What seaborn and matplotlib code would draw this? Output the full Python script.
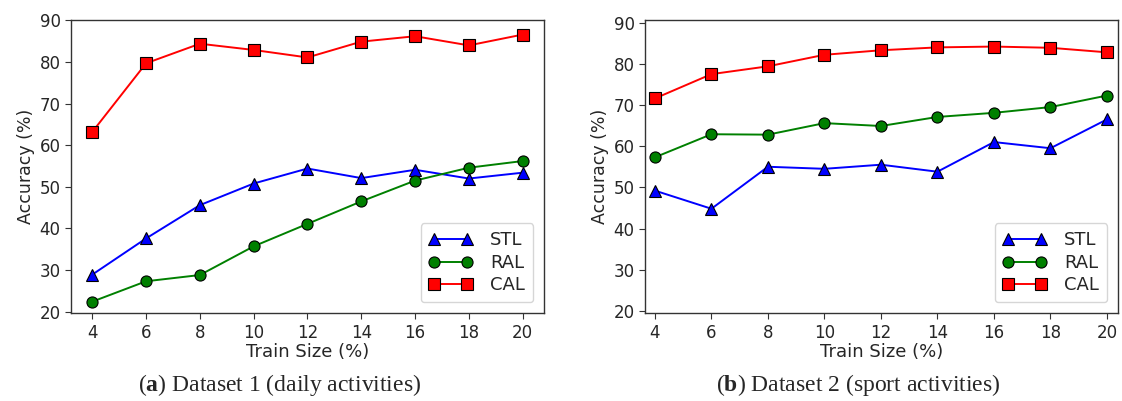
import pandas as pd
import seaborn as sns
import matplotlib.pyplot as plt

train_size = [4, 6, 8, 10, 12, 14, 16, 18, 20]

# dataset 1 (daily activities)
stl_1 = [28.9, 37.6, 45.6, 50.8, 54.4, 52.1, 54.1, 52.0, 53.4]
ral_1 = [22.4, 27.3, 28.8, 35.7, 41.1, 46.5, 51.5, 54.6, 56.2]
cal_1 = [63.2, 79.7, 84.4, 82.9, 81.1, 84.9, 86.2, 84.0, 86.6]

# dataset 2 (sport activities)
stl_2 = [49.2, 44.8, 55.0, 54.5, 55.5, 53.8, 61.0, 59.5, 66.5]
ral_2 = [57.3, 62.9, 62.8, 65.6, 64.9, 67.1, 68.1, 69.5, 72.3]
cal_2 = [71.6, 77.5, 79.4, 82.2, 83.3, 84.0, 84.2, 83.9, 82.8]

methods = ["STL", "RAL", "CAL"]
colors = {"STL": "#0000ff", "RAL": "#008000", "CAL": "#ff0000"}
markers = {"STL": "^", "RAL": "o", "CAL": "s"}
captions = ["Dataset 1 (daily activities)", "Dataset 2 (sport activities)"]
letters = ["a", "b"]


def make_df(stl, ral, cal):
    rows = []
    for name, vals in zip(methods, [stl, ral, cal]):
        for x, v in zip(train_size, vals):
            rows.append({"Train Size (%)": x, "Accuracy (%)": v, "method": name})
    return pd.DataFrame(rows)


sns.set_style("ticks")
plt.rcParams["font.family"] = ["DejaVu Sans"]
plt.rcParams["mathtext.fontset"] = "custom"
plt.rcParams["mathtext.bf"] = "Liberation Serif:bold"
plt.rcParams["mathtext.rm"] = "Liberation Serif"

data = [make_df(stl_1, ral_1, cal_1), make_df(stl_2, ral_2, cal_2)]
xlims = [(3.21, 20.79), (3.65, 20.39)]
ylims = [(19.6, 90.1), (19.4, 90.65)]

fig = plt.figure(figsize=(11.22, 4.01), dpi=100)
axes = [fig.add_axes([0.0633, 0.2187, 0.4215, 0.7314]),
        fig.add_axes([0.5749, 0.2187, 0.4215, 0.7314])]

for i, ax in enumerate(axes):
    df = data[i]
    for m in methods:
        sub = df[df["method"] == m]
        sns.lineplot(data=sub, x="Train Size (%)", y="Accuracy (%)", ax=ax,
                     color=colors[m], marker=markers[m], markersize=8,
                     markeredgecolor="black", markeredgewidth=0.8,
                     linewidth=1.4, label=m)
    ax.set_xlim(*xlims[i])
    ax.set_ylim(*ylims[i])
    ax.set_xticks(train_size)
    ax.set_yticks([20, 30, 40, 50, 60, 70, 80, 90])
    ax.tick_params(labelsize=12, length=4, color="#333333")
    ax.set_xlabel("Train Size (%)", fontsize=13, labelpad=1)
    ax.set_ylabel("Accuracy (%)", fontsize=12.5, labelpad=3)
    for s in ax.spines.values():
        s.set_color("#333333")
        s.set_linewidth(1.0)
    ax.legend(loc="lower right", numpoints=2, fontsize=13, handlelength=2.4,
              borderpad=0.45, labelspacing=0.25, handletextpad=1.0,
              borderaxespad=0.6)

caption_x = [280 / 1122, 858 / 1122]
for i in range(2):
    fig.text(caption_x[i], 0.025,
             "(" + r"$\mathbf{" + letters[i] + "}$" + ") " + captions[i],
             ha="center", va="baseline", family="Liberation Serif", fontsize=17)

fig.savefig("out.png", dpi=100)
